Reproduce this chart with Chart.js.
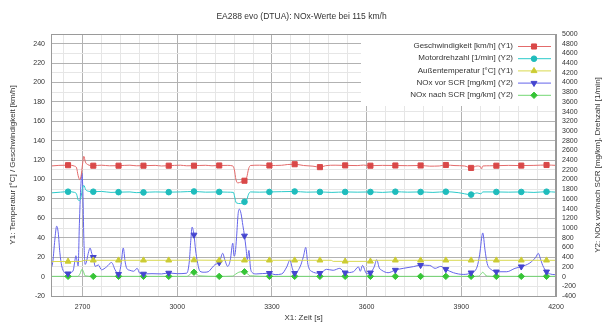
<!DOCTYPE html>
<html>
<head>
<meta charset="utf-8">
<script src="https://cdn.jsdelivr.net/npm/chart.js@4"></script>
<style>
  body { margin: 0; background: #fff; }
  #box { width: 603px; height: 331px; }
</style>
</head>
<body>
<div id="box"><canvas id="graficoNOx"></canvas></div>
<script>
// Zeitpunkte der Marker (jeder n-te Messpunkt)
const markerZeit = [2654, 2734, 2814, 2893, 2973, 3053, 3133, 3213, 3292, 3372, 3452, 3532, 3612, 3691, 3771, 3851, 3931, 4011, 4090, 4170];

// Geschwindigkeit [km/h] (Y1)
const zeitGeschw = [2600, 2625, 2654, 2675, 2681, 2686, 2691, 2695, 2700, 2704, 2709, 2716, 2734, 2760, 2785, 2814, 2850, 2870, 2893, 2930, 2950, 2973, 3010, 3030, 3053, 3090, 3110, 3133, 3160, 3176, 3181, 3186, 3192, 3202, 3213, 3220, 3226, 3232, 3260, 3292, 3330, 3350, 3372, 3400, 3430, 3452, 3470, 3500, 3532, 3570, 3590, 3612, 3650, 3691, 3730, 3771, 3800, 3830, 3851, 3880, 3910, 3931, 3950, 3960, 3964, 3968, 3990, 4011, 4050, 4090, 4130, 4170, 4200];
const geschw = [114, 114.6, 114.8, 113.8, 112, 104, 100, 103, 116, 124, 118, 115.5, 114.3, 114.8, 114.2, 114.3, 114.8, 114.2, 114.3, 114.6, 114, 114.3, 114.8, 114.2, 114.3, 114.7, 114.2, 114.5, 114.6, 114, 110, 100, 96.5, 97.5, 98.8, 102, 111, 114.5, 114.8, 114.5, 114.7, 115.5, 115.8, 114.5, 113.8, 112.8, 114.3, 114.8, 114.6, 114.4, 114.9, 114.3, 114.6, 114.5, 114.3, 114.5, 113.8, 114, 115, 114.4, 114, 112, 114, 113.5, 111, 114, 114.2, 114.3, 114.6, 114.4, 114.6, 115, 114.6];

// Motordrehzahl [1/min] (Y2)
const zeitDrehzahl = [2600, 2630, 2654, 2675, 2681, 2686, 2690, 2695, 2700, 2704, 2710, 2718, 2734, 2760, 2790, 2814, 2850, 2870, 2893, 2930, 2973, 3010, 3053, 3090, 3133, 3160, 3178, 3182, 3187, 3200, 3213, 3220, 3226, 3232, 3260, 3292, 3330, 3372, 3410, 3452, 3490, 3532, 3570, 3612, 3650, 3691, 3730, 3771, 3810, 3851, 3890, 3931, 3950, 3962, 3968, 4011, 4050, 4090, 4130, 4170, 4200];
const drehzahl = [1725, 1740, 1750, 1735, 1700, 1580, 1565, 1640, 1820, 1880, 1790, 1760, 1750, 1755, 1735, 1740, 1745, 1730, 1735, 1745, 1740, 1745, 1755, 1740, 1745, 1740, 1735, 1640, 1520, 1505, 1540, 1580, 1700, 1745, 1740, 1745, 1750, 1755, 1740, 1745, 1735, 1745, 1740, 1745, 1735, 1750, 1740, 1745, 1735, 1750, 1730, 1690, 1725, 1705, 1745, 1745, 1740, 1745, 1735, 1750, 1740];

// Außentemperatur [°C] (Y1)
const zeitTemp = [2600, 2654, 2695, 2705, 2734, 2814, 2893, 2973, 3053, 3133, 3213, 3292, 3372, 3452, 3488, 3494, 3532, 3612, 3618, 3691, 3771, 3851, 3931, 4011, 4090, 4170, 4200];
const temp = [15.5, 15.6, 15.6, 16.8, 16.8, 16.8, 16.8, 16.8, 17, 16.8, 16.8, 16.8, 16.8, 16.8, 16.8, 15.7, 15.7, 15.7, 16.8, 16.8, 16.8, 16.8, 16.8, 16.8, 16.8, 16.8, 16.8];

// NOx vor SCR [mg/km] (Y2)
const zeitNoxVor = [2600, 2606, 2612, 2618, 2623, 2628, 2634, 2642, 2654, 2665, 2671, 2675, 2679, 2683, 2686, 2690, 2694, 2698, 2701, 2704, 2708, 2712, 2718, 2724, 2729, 2734, 2740, 2750, 2760, 2776, 2792, 2803, 2814, 2822, 2829, 2835, 2840, 2850, 2862, 2873, 2881, 2893, 2920, 2950, 2973, 3000, 3030, 3038, 3043, 3047, 3053, 3058, 3064, 3072, 3085, 3098, 3110, 3120, 3133, 3144, 3151, 3160, 3168, 3176, 3180, 3184, 3188, 3193, 3197, 3202, 3208, 3213, 3218, 3222, 3227, 3232, 3238, 3250, 3292, 3310, 3331, 3347, 3357, 3365, 3372, 3389, 3400, 3407, 3414, 3425, 3452, 3473, 3494, 3515, 3532, 3558, 3574, 3580, 3587, 3600, 3612, 3624, 3632, 3640, 3648, 3668, 3691, 3716, 3748, 3771, 3800, 3817, 3835, 3851, 3875, 3906, 3931, 3950, 3958, 3968, 3975, 3982, 3996, 4011, 4044, 4070, 4090, 4117, 4136, 4144, 4150, 4158, 4170, 4188, 4200];
const noxVor = [150, 320, 750, 1040, 900, 500, 220, 90, 60, 90, 140, 300, 430, 300, 220, 1100, 1800, 2130, 1750, 800, 250, 300, 480, 590, 480, 400, 210, 240, 140, 200, 290, 140, 50, 250, 590, 300, 170, 130, 110, 170, 70, 55, 60, 55, 75, 60, 70, 300, 750, 1020, 860, 550, 300, 110, 90, 100, 180, 250, 290, 480, 340, 210, 340, 690, 420, 500, 820, 1300, 1390, 1300, 1050, 840, 580, 350, 540, 180, 80, 55, 70, 40, 55, 200, 340, 160, 70, 200, 420, 600, 250, 110, 70, 150, 130, 170, 80, 100, 200, 110, 230, 60, 80, 200, 350, 180, 130, 80, 135, 170, 205, 235, 230, 170, 210, 150, 80, 45, 80, 200, 450, 900, 550, 270, 140, 100, 100, 170, 205, 280, 400, 480, 380, 230, 100, 45, 40];

// NOx nach SCR [mg/km] (Y2)
const zeitNoxNach = [2600, 2654, 2685, 2692, 2698, 2703, 2708, 2734, 2814, 2893, 2973, 3030, 3040, 3048, 3053, 3060, 3068, 3133, 3175, 3185, 3195, 3205, 3213, 3222, 3232, 3292, 3372, 3452, 3532, 3612, 3691, 3771, 3851, 3931, 3955, 3962, 3968, 3975, 3982, 4011, 4090, 4170, 4200];
const noxNach = [5, 5, 5, 60, 150, 100, 15, 5, 5, 5, 5, 5, 40, 90, 90, 60, 15, 5, 10, 50, 90, 100, 100, 60, 15, 5, 5, 5, 5, 5, 5, 5, 5, 5, 10, 50, 90, 40, 10, 5, 5, 5, 5];

// Achsen
const xGitterSchritt = 60;
const xBeschriftung = [2700, 3000, 3300, 3600, 3900, 4200];
const y1Beschriftung = [-20, 0, 20, 40, 60, 80, 100, 120, 140, 160, 180, 200, 220, 240];

const schrift = "'Liberation Sans', Arial, sans-serif";
const textFarbe = '#333';

function punkte(zeit, werte) {
    return zeit.map((t, i) => ({ x: t, y: werte[i] }));
}

const markerSet = new Set(markerZeit);

function reihe(label, zeit, werte, achse, linie, marker, stil, r, rot) {
    return {
        label: label,
        data: punkte(zeit, werte),
        yAxisID: achse,
        borderColor: linie,
        borderWidth: 1,
        backgroundColor: marker,
        pointBackgroundColor: marker,
        pointBorderColor: marker,
        pointBorderWidth: 1,
        pointStyle: stil,
        pointRotation: rot || 0,
        markerGroesse: r,
        pointRadius: ctx => (ctx.raw && markerSet.has(ctx.raw.x)) ? r : 0,
        pointHoverRadius: 0,
        cubicInterpolationMode: 'monotone',
        fill: false
    };
}

const datensaetze = [
    reihe('Geschwindigkeit [km/h] (Y1)', zeitGeschw, geschw, 'y', '#e36b6b', '#d94848', 'rect', 3.6),
    reihe('Motordrehzahl [1/min] (Y2)', zeitDrehzahl, drehzahl, 'y2', '#2ccaca', '#1fbcbc', 'circle', 2.8),
    reihe('Außentemperatur [°C] (Y1)', zeitTemp, temp, 'y', '#d9d94e', '#cccc33', 'triangle', 3.4),
    reihe('NOx vor SCR [mg/km] (Y2)', zeitNoxVor, noxVor, 'y2', '#6464ea', '#4646cf', 'triangle', 3.4, 180),
    reihe('NOx nach SCR [mg/km] (Y2)', zeitNoxNach, noxNach, 'y2', '#74d874', '#36c436', 'rectRot', 3.2)
];

const legendePlugin = {
    id: 'legende',
    afterDatasetsDraw(chart) {
        const { ctx, chartArea } = chart;
        const breite = 195, hoehe = 72;
        ctx.save();
        ctx.fillStyle = '#fff';
        ctx.fillRect(chartArea.right - breite, chartArea.top, breite, hoehe);
        ctx.font = '8px ' + schrift;
        ctx.textAlign = 'right';
        ctx.textBaseline = 'middle';
        chart.data.datasets.forEach((ds, i) => {
            const y = chartArea.top + 12 + i * 12.2;
            ctx.fillStyle = textFarbe;
            ctx.fillText(ds.label, chartArea.right - 43, y);
            ctx.strokeStyle = ds.borderColor;
            ctx.lineWidth = 1;
            ctx.beginPath();
            ctx.moveTo(chartArea.right - 38, y + 0.5);
            ctx.lineTo(chartArea.right - 5, y + 0.5);
            ctx.stroke();
            ctx.fillStyle = ds.pointBackgroundColor;
            ctx.strokeStyle = ds.pointBorderColor;
            Chart.helpers.drawPoint(ctx, {
                pointStyle: ds.pointStyle,
                radius: ds.markerGroesse,
                rotation: ds.pointRotation,
                borderWidth: 1
            }, chartArea.right - 22, y + 0.5);
        });
        ctx.restore();
    },
    afterDraw(chart) {
        const { ctx, chartArea } = chart;
        ctx.save();
        ctx.strokeStyle = '#9a9a9a';
        ctx.lineWidth = 1;
        ctx.strokeRect(chartArea.left + 0.5, chartArea.top + 0.5, chartArea.right - chartArea.left - 1, chartArea.bottom - chartArea.top);
        // rechte Achsenbeschriftung, von unten nach oben
        ctx.fillStyle = textFarbe;
        ctx.font = '8px ' + schrift;
        ctx.textAlign = 'center';
        ctx.textBaseline = 'middle';
        ctx.translate(598, (chartArea.top + chartArea.bottom) / 2);
        ctx.rotate(-Math.PI / 2);
        ctx.fillText('Y2: NOx vor/nach SCR [mg/km], Drehzahl [1/min]', 0, 0);
        ctx.restore();
    }
};

function zeichneDiagramm() {
    new Chart(document.getElementById('graficoNOx'), {
        type: 'line',
        data: { datasets: datensaetze },
        options: {
            responsive: true,
            maintainAspectRatio: false,
            animation: false,
            layout: { padding: 0 },
            plugins: {
                legend: { display: false },
                tooltip: { enabled: false },
                title: {
                    display: true,
                    text: 'EA288 evo (DTUA): NOx-Werte bei 115 km/h',
                    color: textFarbe,
                    font: { family: schrift, size: 8.5, weight: 'normal' },
                    padding: { top: 11.5, bottom: 12.3 }
                }
            },
            scales: {
                x: {
                    type: 'linear',
                    min: 2600,
                    max: 4200,
                    afterBuildTicks: s => {
                        const t = [];
                        for (let v = 2640; v <= 4200; v += xGitterSchritt) t.push({ value: v });
                        s.ticks = t;
                    },
                    afterFit: s => { s.height = 35; },
                    ticks: {
                        autoSkip: false,
                        maxRotation: 0,
                        padding: 7,
                        color: textFarbe,
                        font: { family: schrift, size: 7 },
                        callback: v => xBeschriftung.includes(v) ? String(v) : ''
                    },
                    grid: {
                        drawTicks: false,
                        color: c => (c.tick && c.tick.value % 300 === 0) ? '#b2b2b2' : '#e6e6e6'
                    },
                    border: { color: '#9a9a9a' },
                    title: {
                        display: true,
                        text: 'X1: Zeit [s]',
                        color: textFarbe,
                        font: { family: schrift, size: 8 },
                        padding: { top: 0, bottom: 8.2 }
                    }
                },
                y: {
                    position: 'left',
                    min: -20,
                    max: 250,
                    afterFit: s => { s.width = 51; },
                    ticks: {
                        stepSize: 10,
                        autoSkip: false,
                        padding: 6,
                        color: textFarbe,
                        font: { family: schrift, size: 7 },
                        callback: v => y1Beschriftung.includes(v) ? String(v) : ''
                    },
                    grid: {
                        drawTicks: false,
                        color: c => (c.tick && c.tick.value % 20 === 0) ? '#b2b2b2' : '#e6e6e6'
                    },
                    border: { color: '#9a9a9a' },
                    title: {
                        display: true,
                        text: 'Y1: Temperatur [°C] / Geschwindigkeit [km/h]',
                        color: textFarbe,
                        font: { family: schrift, size: 8 },
                        padding: { top: 8.2, bottom: 0 }
                    }
                },
                y2: {
                    position: 'right',
                    min: -400,
                    max: 5000,
                    afterFit: s => { s.width = 47; },
                    ticks: {
                        stepSize: 200,
                        autoSkip: false,
                        padding: 6,
                        color: textFarbe,
                        font: { family: schrift, size: 7 },
                        callback: v => String(v)
                    },
                    grid: { drawOnChartArea: false, drawTicks: false },
                    border: { color: '#9a9a9a' }
                }
            }
        },
        plugins: [legendePlugin]
    });
}

document.addEventListener('DOMContentLoaded', zeichneDiagramm);
</script>
</body>
</html>
